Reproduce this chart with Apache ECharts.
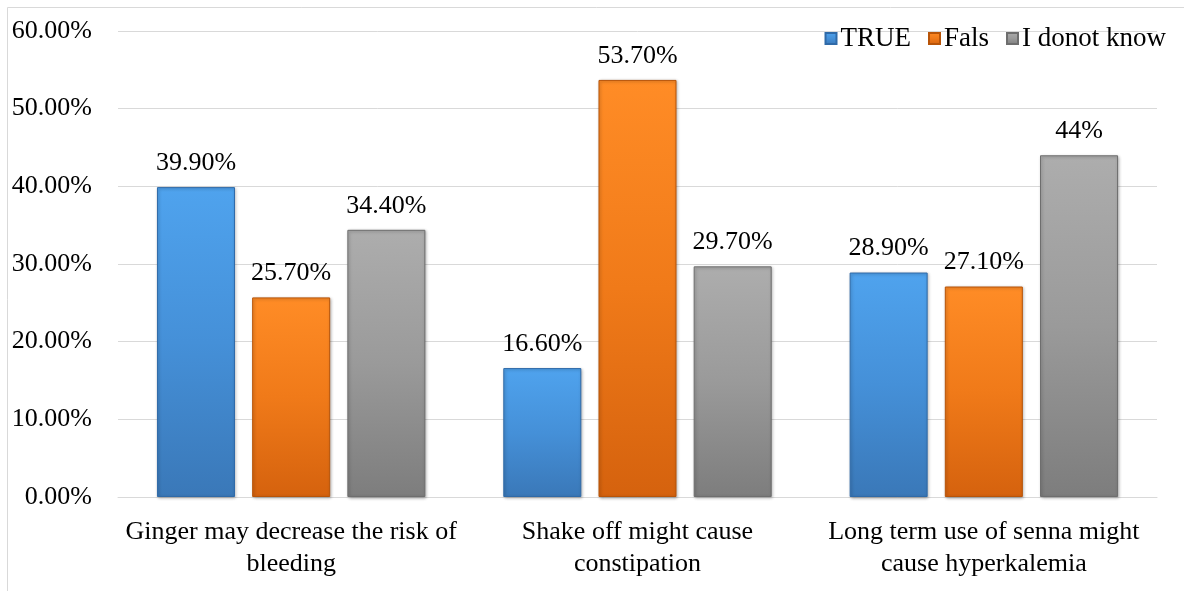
<!DOCTYPE html>
<html>
<head>
<meta charset="utf-8">
<script src="https://cdn.jsdelivr.net/npm/echarts@6/dist/echarts.min.js"></script>
<style>
html,body{margin:0;padding:0;background:#fff;}
#chart{width:1184px;height:591px;}
</style>
</head>
<body>
<div id="chart"></div>
<script>
var categories = ['Ginger may decrease the risk of\nbleeding', 'Shake off might cause\nconstipation', 'Long term use of senna might\ncause hyperkalemia'];
var seriesNames = ['TRUE', 'Fals', 'I donot know'];
var trueValues = [39.9, 16.6, 28.9];
var falsValues = [25.7, 53.7, 27.1];
var dontKnowValues = [34.4, 29.7, 44];
var trueLabels = ['39.90%', '16.60%', '28.90%'];
var falsLabels = ['25.70%', '53.70%', '27.10%'];
var dontKnowLabels = ['34.40%', '29.70%', '44%'];
var yTicks = [0, 10, 20, 30, 40, 50, 60];

var FONT = 'Liberation Serif';
var FS = 26;
function grad(top, mid, bottom) {
  return new echarts.graphic.LinearGradient(0, 0, 0, 1, [
    {offset: 0, color: top},
    {offset: 0.5, color: mid},
    {offset: 1, color: bottom}
  ]);
}
var styles = [
  {color: grad('#4fa3ee', '#4590d8', '#3a78b8'), borderColor: '#2f6aa8'},
  {color: grad('#ff8c26', '#f07a19', '#d5620e'), borderColor: '#b85408'},
  {color: grad('#adadad', '#9a9a9a', '#7d7d7d'), borderColor: '#6e6e6e'}
];
var values = [trueValues, falsValues, dontKnowValues];
var labels = [trueLabels, falsLabels, dontKnowLabels];

var series = seriesNames.map(function (name, i) {
  return {
    name: name,
    type: 'bar',
    data: values[i],
    barGap: '22%',
    barCategoryGap: '22.5%',
    itemStyle: {
      color: styles[i].color,
      borderColor: styles[i].borderColor,
      borderWidth: 1,
      shadowColor: 'rgba(0,0,0,0.3)',
      shadowBlur: 3,
      shadowOffsetX: 1,
      shadowOffsetY: 1
    },
    label: {
      show: true,
      position: 'top',
      distance: 11,
      fontFamily: FONT,
      fontSize: FS,
      color: '#000',
      formatter: (function (arr) { return function (p) { return arr[p.dataIndex]; }; })(labels[i])
    }
  };
});

var chart = echarts.init(document.getElementById('chart'));
chart.setOption({
  animation: false,
  backgroundColor: '#fff',
  textStyle: {fontFamily: FONT, fontSize: FS},
  graphic: [{
    type: 'rect',
    shape: {x: 7.5, y: 7.5, width: 1250, height: 650},
    style: {fill: 'none', stroke: '#d9d9d9', lineWidth: 1},
    silent: true
  }],
  grid: {left: 118, right: 27, top: 31, bottom: 94, containLabel: false},
  legend: {
    data: seriesNames,
    right: 13,
    top: 20,
    itemWidth: 11,
    itemHeight: 11,
    itemGap: 17,
    icon: 'rect',
    textStyle: {fontFamily: FONT, fontSize: 27, color: '#000', padding: [0, 0, 0, -1]}
  },
  xAxis: {
    type: 'category',
    data: categories,
    axisLine: {lineStyle: {color: '#d9d9d9', width: 1}},
    axisTick: {show: false},
    axisLabel: {
      fontFamily: FONT,
      fontSize: FS,
      color: '#000',
      lineHeight: 32,
      margin: 19,
      interval: 0
    }
  },
  yAxis: {
    type: 'value',
    min: yTicks[0],
    max: yTicks[yTicks.length - 1],
    interval: 10,
    axisLine: {show: false},
    axisTick: {show: false},
    splitLine: {lineStyle: {color: '#d9d9d9', width: 1}},
    axisLabel: {
      fontFamily: FONT,
      fontSize: FS,
      color: '#000',
      margin: 26,
      formatter: function (v) { return v.toFixed(2) + '%'; }
    }
  },
  series: series
});
</script>
</body>
</html>
